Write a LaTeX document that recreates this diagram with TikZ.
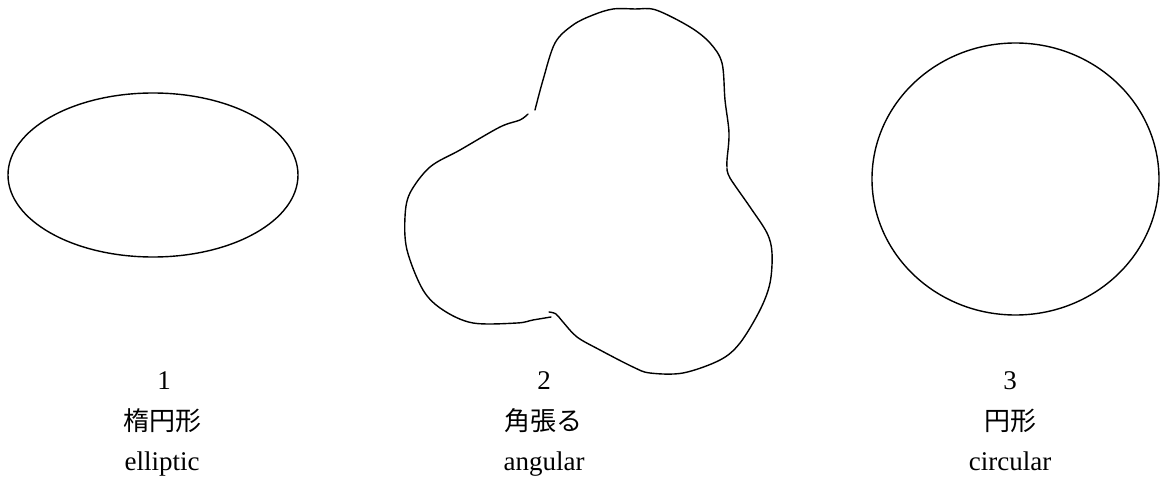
\documentclass[tikz,border=0pt]{standalone}
\usepackage{fontspec}
\setmainfont{Liberation Serif}
\newfontfamily\jpfont{Noto Sans CJK JP}
\begin{document}
\begin{tikzpicture}[x=1pt,y=-1pt,
  outline/.style={line width=1.4pt,black,line join=round,line cap=round},
  numlabel/.style={font=\fontsize{27}{30}\selectfont,inner sep=0pt,anchor=base},
  jplabel/.style={font=\jpfont\fontsize{26}{30}\selectfont,inner sep=0pt},
  enlabel/.style={font=\fontsize{27}{30}\selectfont,inner sep=0pt,anchor=base}]
\useasboundingbox (0,0) rectangle (1165,489);
% 1 elliptic
\draw[outline] (153,175) ellipse [x radius=145, y radius=82];
% 2 angular (three lobes)
\draw[outline] plot[smooth,tension=0.55] coordinates {
 (535,110) (543,80) (555,43) (573,25) (593,15) (613,9) (635,9) (656,10)
 (690,27) (710,43) (722,63) (725,100) (729,133) (727,160) (727,167)};
\draw[outline] plot[smooth,tension=0.55] coordinates {
 (727,168) (730,178) (750,207) (767,233) (772,253) (770,283) (760,310)
 (740,343) (720,360) (683,373) (650,373) (633,367) (600,350) (577,337)
 (563,322) (556,314) (549,312)};
\draw[outline] plot[smooth,tension=0.55] coordinates {
 (551,317) (533,320) (517,323) (473,323) (443,310) (423,290) (407,250)
 (405,217) (410,193) (430,167) (460,150) (500,127) (520,120) (528,114)};
% 3 circular
\draw[outline] (1015.5,179) ellipse [x radius=143.5, y radius=136];
% labels
\node[numlabel] (n1) at (164,389) {1};
\node[jplabel] (j1) at (162,421) {楕円形};
\node[enlabel] (e1) at (162,470) {elliptic};
\node[numlabel] (n2) at (544,389) {2};
\node[jplabel] (j2) at (543,421) {角張る};
\node[enlabel] (e2) at (544,470) {angular};
\node[numlabel] (n3) at (1010,389) {3};
\node[jplabel] (j3) at (1010,421) {円形};
\node[enlabel] (e3) at (1010,470) {circular};
\end{tikzpicture}
\end{document}
